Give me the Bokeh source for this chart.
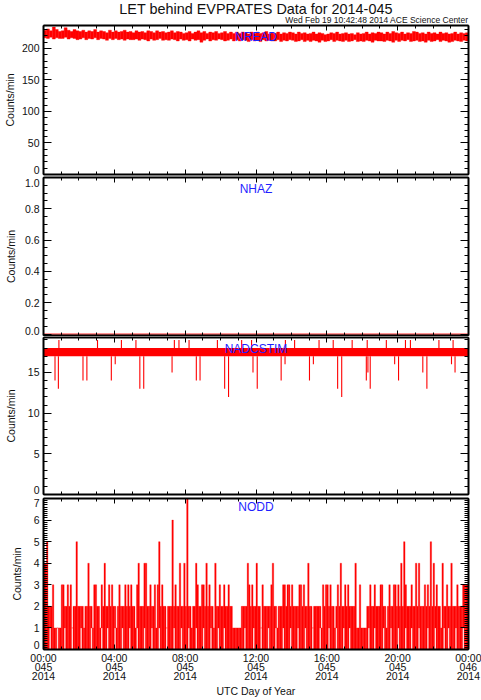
import numpy as np
from bokeh.plotting import figure
from bokeh.models import Range1d, LinearAxis, FixedTicker, Label
from bokeh.layouts import column
from bokeh.embed import file_html
from bokeh.resources import INLINE

# ---------------- texts ----------------
TITLE = "LET behind EVPRATES Data for 2014-045"
SUBTITLE = "Wed Feb 19 10:42:48 2014 ACE Science Center"
Y_LABEL = "Counts/min"
X_LABEL = "UTC Day of Year"
panel_names = ["NREAD", "NHAZ", "NADCSTIM", "NODD"]

# ---------------- x axis (hours of day 045) ----------------
x_major = [0, 4, 8, 12, 16, 20, 24]
x_minor = list(range(0, 25))
x_tick_labels = ["00:00\n045\n2014", "04:00\n045\n2014", "08:00\n045\n2014",
                 "12:00\n045\n2014", "16:00\n045\n2014", "20:00\n045\n2014",
                 "00:00\n046\n2014"]

# ---------------- NREAD: per 10-minute bin, min and max counts/min ----------------
NREAD_BIN_MIN = 10
nread_max = [
    229, 231, 228, 234, 230, 227,
    228, 233, 229, 227, 230, 228,
    227, 229, 226, 228, 227, 230,
    226, 228, 227, 225, 229, 226,
    228, 226, 227, 229, 226, 227,
    225, 228, 226, 227, 225, 228,
    227, 225, 228, 226, 227, 225,
    226, 228, 225, 227, 226, 224,
    225, 227, 224, 226, 228, 225,
    227, 224, 226, 225, 227, 224,
    225, 227, 224, 226, 224, 226,
    224, 226, 225, 223, 226, 224,
    226, 224, 225, 227, 223, 225,
    224, 226, 223, 225, 224, 226,
    225, 223, 226, 224, 225, 223,
    224, 226, 223, 225, 224, 222,
    223, 225, 224, 226, 223, 224,
    225, 223, 224, 222, 225, 223,
    224, 226, 223, 225, 224, 226,
    225, 223, 226, 224, 227, 225,
    224, 226, 223, 225, 224, 227,
    226, 224, 225, 223, 226, 224,
    225, 223, 226, 224, 225, 223,
    224, 226, 223, 225, 224, 225,
]
nread_min = [
    217, 216, 218, 215, 217, 216,
    216, 218, 215, 217, 216, 214,
    215, 217, 214, 216, 215, 217,
    214, 216, 215, 213, 216, 214,
    216, 214, 215, 213, 215, 214,
    214, 215, 213, 215, 214, 212,
    215, 213, 214, 216, 213, 214,
    213, 215, 214, 212, 215, 213,
    214, 212, 215, 213, 214, 210,
    213, 215, 212, 214, 213, 215,
    214, 212, 213, 215, 212, 214,
    212, 214, 213, 211, 214, 212,
    213, 211, 214, 212, 213, 212,
    212, 214, 211, 213, 212, 214,
    213, 211, 212, 214, 211, 213,
    211, 213, 212, 210, 213, 211,
    212, 214, 211, 213, 212, 211,
    213, 211, 212, 214, 211, 212,
    211, 213, 212, 210, 213, 212,
    212, 211, 213, 212, 210, 213,
    211, 213, 212, 214, 211, 212,
    213, 211, 212, 210, 213, 211,
    212, 214, 211, 213, 212, 210,
    211, 213, 212, 211, 213, 212,
]

# ---------------- NHAZ: zero all day ----------------
nhaz_hours = [0, 24]
nhaz = [0, 0]

# ---------------- NADCSTIM: 17-18 band with isolated excursions ----------------
nadcstim_band_hours = [0, 24]
nadcstim_band_low = [17, 17]
nadcstim_band_high = [18, 18]
nadcstim_dip_hours = [0.65, 0.84, 2.23, 2.45, 3.83, 4.05, 5.44, 5.66, 7.26, 8.63,
                      8.84, 10.23, 10.45, 11.83, 12.07, 13.42, 13.64, 15.02, 15.24, 16.61,
                      16.84, 18.23, 18.32, 18.45, 19.83, 20.05, 21.42, 21.65, 23.04, 23.24]
nadcstim_dip_values = [14, 13, 14, 14, 14, 16, 13, 13, 15, 14,
                       14, 13, 12, 15, 13, 14, 16, 14, 16, 13,
                       12, 14, 15, 13, 16, 14, 15, 13, 16, 15]
nadcstim_spike_hours = [0.87, 3.05, 4.40, 5.22, 7.39, 7.65, 8.22, 9.82, 11.19, 11.75,
                        13.66, 14.18, 15.56, 16.36, 17.43, 18.28, 19.36, 20.44, 20.72,
                        22.33, 23.13]
nadcstim_spike_values = [19, 19, 19, 19, 19, 19, 19, 19, 19, 19,
                         19, 19, 19, 19, 19, 19, 19, 19, 19,
                         19, 19]

# ---------------- NODD: per 5-minute bin, min and max counts/min ----------------
NODD_BIN_MIN = 5
nodd_max = [
    4, 4, 5, 2, 2, 2, 3, 1, 1, 1, 1, 1,
    3, 3, 2, 2, 3, 2, 3, 1, 2, 2, 5, 2,
    2, 2, 2, 1, 2, 2, 4, 2, 2, 1, 3, 3,
    2, 2, 1, 3, 2, 4, 2, 2, 3, 2, 3, 2,
    2, 1, 2, 3, 2, 2, 2, 3, 2, 3, 2, 3,
    2, 2, 1, 3, 4, 2, 2, 2, 4, 4, 2, 2,
    3, 2, 2, 3, 1, 3, 5, 2, 3, 2, 2, 1,
    2, 2, 2, 6, 2, 3, 2, 2, 4, 2, 2, 4,
    2, 7, 2, 2, 1, 2, 2, 4, 3, 2, 2, 3,
    3, 2, 4, 2, 3, 2, 2, 1, 4, 2, 2, 3,
    2, 2, 3, 2, 2, 3, 2, 2, 1, 1, 1, 1,
    1, 1, 2, 2, 2, 2, 4, 3, 2, 3, 2, 2,
    4, 2, 2, 1, 3, 2, 2, 2, 2, 2, 3, 4,
    2, 2, 1, 2, 2, 2, 3, 3, 2, 3, 3, 2,
    3, 2, 2, 2, 2, 3, 3, 2, 3, 2, 2, 4,
    2, 2, 1, 2, 2, 2, 2, 2, 1, 3, 2, 3,
    3, 2, 3, 2, 2, 1, 2, 3, 2, 4, 2, 2,
    3, 2, 3, 2, 2, 2, 2, 4, 1, 1, 3, 1,
    1, 1, 1, 2, 2, 3, 2, 2, 3, 2, 2, 2,
    3, 3, 2, 2, 1, 2, 3, 2, 2, 3, 3, 2,
    3, 2, 4, 2, 5, 3, 2, 2, 2, 3, 2, 2,
    4, 2, 4, 2, 2, 2, 3, 2, 3, 2, 5, 2,
    4, 2, 3, 2, 2, 1, 4, 2, 2, 3, 2, 2,
    4, 2, 2, 2, 3, 2, 2, 2, 3, 3, 3, 3,
]
nodd_min = [
    0, 0, 0, 0, 1, 0, 0, 0, 0, 1, 0, 0,
    0, 0, 1, 0, 0, 0, 0, 1, 0, 0, 0, 0,
    0, 1, 0, 0, 0, 0, 0, 0, 1, 0, 0, 0,
    0, 0, 0, 1, 0, 0, 0, 1, 0, 0, 0, 0,
    1, 0, 0, 0, 0, 1, 0, 0, 0, 0, 1, 0,
    0, 0, 0, 1, 0, 0, 0, 0, 1, 0, 0, 0,
    0, 1, 0, 0, 0, 0, 1, 0, 0, 0, 0, 1,
    0, 0, 0, 0, 1, 0, 0, 0, 0, 1, 0, 0,
    0, 0, 1, 0, 0, 0, 0, 1, 0, 0, 0, 0,
    1, 0, 0, 0, 0, 1, 0, 0, 0, 0, 1, 0,
    0, 0, 1, 0, 0, 0, 0, 0, 0, 0, 0, 0,
    0, 0, 0, 0, 1, 0, 0, 0, 0, 0, 1, 0,
    0, 0, 0, 1, 0, 0, 0, 0, 1, 0, 0, 0,
    0, 1, 0, 0, 0, 0, 1, 0, 0, 0, 0, 1,
    0, 0, 0, 0, 1, 0, 0, 0, 0, 1, 0, 0,
    0, 0, 1, 0, 0, 0, 0, 1, 0, 0, 0, 0,
    0, 1, 0, 0, 0, 0, 1, 0, 0, 0, 0, 1,
    0, 0, 0, 1, 0, 0, 0, 0, 0, 0, 0, 0,
    0, 0, 0, 0, 1, 0, 0, 0, 1, 0, 0, 0,
    0, 0, 1, 0, 0, 0, 0, 1, 0, 0, 0, 0,
    1, 0, 0, 0, 0, 1, 0, 0, 0, 1, 0, 0,
    0, 0, 1, 0, 0, 0, 0, 0, 1, 0, 0, 0,
    0, 1, 0, 0, 0, 0, 0, 1, 0, 0, 1, 0,
    0, 0, 0, 1, 0, 0, 0, 0, 1, 0, 0, 0,
]

# ---------------- y ticks ----------------
nread_ticks = [0, 50, 100, 150, 200]
nread_tick_labels = ["0", "50", "100", "150", "200"]
nread_minor = list(range(0, 240, 10))
nhaz_ticks = [0.0, 0.2, 0.4, 0.6, 0.8, 1.0]
nhaz_tick_labels = ["0.0", "0.2", "0.4", "0.6", "0.8", "1.0"]
nhaz_minor = [i * 0.05 for i in range(21)]
nadcstim_ticks = [0, 5, 10, 15]
nadcstim_tick_labels = ["0", "5", "10", "15"]
nadcstim_minor = list(range(0, 20))
nodd_ticks = [0, 1, 2, 3, 4, 5, 6, 7]
nodd_tick_labels = ["0", "1", "2", "3", "4", "5", "6", "7"]
nodd_minor = [i / 10 for i in range(71)]

FONT = "Liberation Sans"
INK = "#111111"
W = 481
LEFT, RIGHT = 37, 13
EDGE_LABEL_BOTTOM_PX = 4.5   # end labels are kept inside the frame, like the original
EDGE_LABEL_TOP_PX = 5.0
TEXT_RAISE = 3.5             # compensation for where the SVG alphabetic baseline lands


def bin_centers(n, bin_min):
    return (np.arange(n) + 0.5) * bin_min / 60.0


def base_figure(h, yr, b_top, b_bottom):
    p = figure(width=W, height=h, x_range=Range1d(0, 24), y_range=Range1d(*yr),
               output_backend="svg", toolbar_location=None,
               x_axis_location=None, y_axis_location=None,
               min_border_left=LEFT, min_border_right=RIGHT,
               min_border_top=b_top, min_border_bottom=b_bottom,
               background_fill_color="white", border_fill_color="white",
               outline_line_color=None)
    p.grid.grid_line_color = None
    return p


def style_ticks(ax, mj, mn):
    ax.major_tick_in = mj
    ax.major_tick_out = 0
    ax.minor_tick_in = mn
    ax.minor_tick_out = 0
    ax.axis_line_width = 2
    ax.axis_line_color = "black"
    ax.major_tick_line_color = "black"
    ax.minor_tick_line_color = "black"
    ax.major_label_text_font = FONT
    ax.major_label_text_color = None
    ax.major_label_text_font_size = "0px"
    ax.major_label_standoff = 0


def make_panel(name, frame_h, yr, yticks, ytexts, yminor, b_top, b_bottom,
               ylabel_standoff=3, xlabels=False):
    p = base_figure(frame_h + b_top + b_bottom, yr, b_top, b_bottom)
    xt = FixedTicker(ticks=x_major, minor_ticks=x_minor)
    yt = FixedTicker(ticks=yticks, minor_ticks=yminor)
    bottom, top = LinearAxis(ticker=xt), LinearAxis(ticker=xt)
    left, right = LinearAxis(ticker=yt), LinearAxis(ticker=yt)
    for ax, mj, mn in ((bottom, 5, 3), (top, 5, 3), (left, 8, 4), (right, 8, 4)):
        style_ticks(ax, mj, mn)

    # label-only axis: tick labels sit at the ticks, end ones nudged inside the frame
    upp = (yr[1] - yr[0]) / frame_h
    lab_pos = []
    for t in yticks:
        px_from_bottom = (t - yr[0]) / upp
        px_from_top = (yr[1] - t) / upp
        if px_from_bottom < EDGE_LABEL_BOTTOM_PX:
            lab_pos.append(yr[0] + EDGE_LABEL_BOTTOM_PX * upp)
        elif px_from_top < EDGE_LABEL_TOP_PX:
            lab_pos.append(yr[1] - EDGE_LABEL_TOP_PX * upp)
        else:
            lab_pos.append(t)
    labels = LinearAxis(ticker=FixedTicker(ticks=lab_pos, minor_ticks=[]))
    labels.major_tick_in = 0
    labels.major_tick_out = 0
    labels.minor_tick_in = 0
    labels.minor_tick_out = 0
    labels.axis_line_color = None
    labels.major_label_text_font = FONT
    labels.major_label_text_color = INK
    labels.major_label_text_font_size = "10.5px"
    labels.major_label_standoff = 4
    labels.major_label_overrides = dict(zip(lab_pos, ytexts))
    labels.axis_label = Y_LABEL
    labels.axis_label_text_font = FONT
    labels.axis_label_text_font_size = "10.5px"
    labels.axis_label_text_font_style = "normal"
    labels.axis_label_text_color = INK
    labels.axis_label_standoff = ylabel_standoff

    if xlabels:
        bottom.major_label_text_color = INK
        bottom.major_label_text_font_size = "10.5px"
        bottom.major_label_standoff = 2
        bottom.major_label_text_line_height = 0.78
        bottom.major_label_overrides = dict(zip(x_major, x_tick_labels))
        bottom.axis_label = X_LABEL
        bottom.axis_label_text_font = FONT
        bottom.axis_label_text_font_size = "10.5px"
        bottom.axis_label_text_font_style = "normal"
        bottom.axis_label_text_color = INK
        bottom.axis_label_standoff = 0
    p.add_layout(bottom, "below")
    p.add_layout(top, "above")
    p.add_layout(left, "left")
    p.add_layout(labels, "left")
    p.add_layout(right, "right")
    p.add_layout(Label(x=12, y=frame_h - 14.5 + TEXT_RAISE, x_units="data", y_units="screen",
                       text=name, text_align="center", text_baseline="alphabetic",
                       text_font=FONT, text_font_size="12px", text_color="#1f1fff"))
    return p


# header with title and production stamp
header = base_figure(24, (0, 24), 0, 0)
header.add_layout(Label(x=12, y=12.3 + TEXT_RAISE, text=TITLE, text_align="center",
                        text_baseline="alphabetic", text_font=FONT,
                        text_font_size="14.4px", text_color=INK))
header.add_layout(Label(x=24, y=1.4 + TEXT_RAISE, text=SUBTITLE, text_align="right",
                        text_baseline="alphabetic", text_font=FONT,
                        text_font_size="8.5px", text_color=INK))

# NREAD
p1 = make_panel(panel_names[0], 149, (0, 236.5), nread_ticks, nread_tick_labels,
                nread_minor, 1, 2, ylabel_standoff=3)
p1.vbar(x=bin_centers(len(nread_max), NREAD_BIN_MIN), width=NREAD_BIN_MIN / 60.0,
        bottom=nread_min, top=nread_max, fill_color="#ff0000",
        line_color="#ff0000", line_width=0.4)

# NHAZ
p2 = make_panel(panel_names[1], 158, (-0.009, 1.0), nhaz_ticks, nhaz_tick_labels,
                nhaz_minor, 1, 1, ylabel_standoff=5)
p2.line(nhaz_hours, nhaz, line_color="#ff0000", line_width=1)

# NADCSTIM
p3 = make_panel(panel_names[2], 157, (0, 19.3), nadcstim_ticks, nadcstim_tick_labels,
                nadcstim_minor, 1, 2, ylabel_standoff=8)
p3.varea(x=nadcstim_band_hours, y1=nadcstim_band_low, y2=nadcstim_band_high,
         fill_color="#ff0000")
p3.segment(x0=nadcstim_dip_hours, y0=[nadcstim_band_low[0]] * len(nadcstim_dip_hours),
           x1=nadcstim_dip_hours, y1=nadcstim_dip_values,
           line_color="#ff0000", line_width=1.1)
p3.segment(x0=nadcstim_spike_hours, y0=[nadcstim_band_high[0]] * len(nadcstim_spike_hours),
           x1=nadcstim_spike_hours, y1=nadcstim_spike_values,
           line_color="#ff0000", line_width=1.1)

# NODD
p4 = make_panel(panel_names[3], 154, (0, 7.0), nodd_ticks, nodd_tick_labels,
                nodd_minor, 2, 48, ylabel_standoff=8, xlabels=True)
p4.vbar(x=bin_centers(len(nodd_max), NODD_BIN_MIN), width=NODD_BIN_MIN / 60.0,
        bottom=nodd_min, top=nodd_max, fill_color="#ff0000",
        line_color="#ff0000", line_width=0.3)

layout = column(header, p1, p2, p3, p4, spacing=0)
open("out.html", "w").write(file_html(layout, INLINE))
